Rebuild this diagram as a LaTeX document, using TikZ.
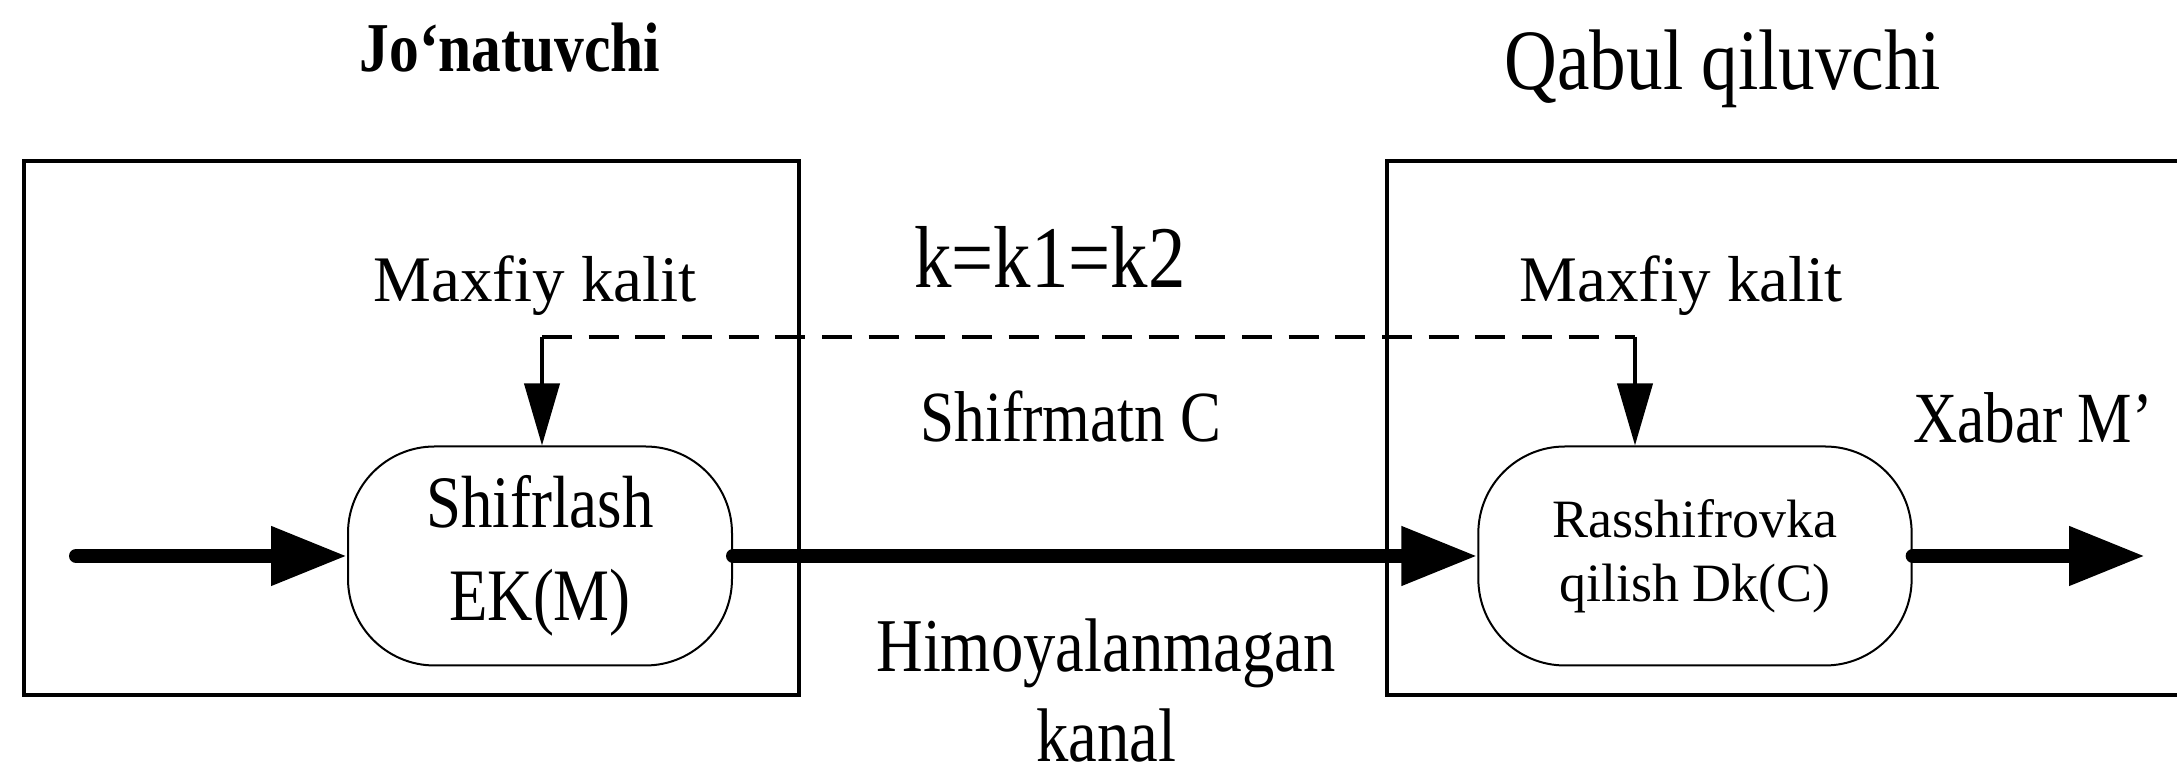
\documentclass[tikz,border=0pt]{standalone}
\usepackage{fontspec}
\setmainfont{Liberation Serif}
\newfontfamily\narrowfont[FakeStretch=0.85]{Liberation Serif}
\usetikzlibrary{arrows.meta, positioning, calc}

\begin{document}
\begin{tikzpicture}[x=0.3pt, y=-0.3pt,
        frame/.style={line width=1.35pt},
        proc/.style={draw, line width=0.6pt, rounded corners=26pt, align=center, inner sep=0pt},
        lbl/.style={anchor=base, inner sep=0pt},
        flow/.style={line width=4.2pt, line cap=round, -{Triangle[length=22.8pt, width=16.8pt]}},
        keyline/.style={line width=1.2pt, -{Triangle[length=18.6pt, width=10.5pt]}},
        keydash/.style={line width=1.2pt, dash pattern=on 9pt off 5pt}]

    \useasboundingbox (0,0) rectangle (2177,774);

    % sender and receiver
    \draw[frame] (24,161) rectangle (799,695);
    \draw[frame] (2177,161) -- (1387,161) -- (1387,695) -- (2177,695);

    \node[lbl, font=\narrowfont\bfseries\fontsize{21}{25}\selectfont] (sender) at (510,72) {Jo‘natuvchi};
    \node[lbl, font=\narrowfont\fontsize{25.8}{30}\selectfont] (receiver) at (1723,90) {Qabul qiluvchi};

    % processes
    \node[proc, minimum width=115.2pt, minimum height=65.7pt,
          font=\narrowfont\fontsize{22.2}{27.9}\selectfont] (enc) at (540,556) {Shifrlash\\EK(M)};
    \node[proc, minimum width=130pt, minimum height=65.7pt,
          font=\fontsize{16.2}{19.2}\selectfont] (dec) at (1695,556) {Rasshifrovka\\qilish Dk(C)};

    % labels
    \node[lbl, font=\fontsize{19.5}{23}\selectfont] (keyl) at (535,302) {Maxfiy kalit};
    \node[lbl, font=\fontsize{19.5}{23}\selectfont] (keyr) at (1681,302) {Maxfiy kalit};
    \node[lbl, font=\narrowfont\fontsize{26.4}{30}\selectfont] (keq) at (1050,288) {k=k1=k2};
    \node[lbl, font=\narrowfont\fontsize{21.6}{26}\selectfont] (ctext) at (1071,442) {Shifrmatn C};
    \node[lbl, font=\narrowfont\fontsize{21.6}{26}\selectfont] (msg) at (2033,443) {Xabar M’};
    \node[lbl, align=center, font=\narrowfont\fontsize{22.8}{27}\selectfont] (chan) at (1106,762) {Himoyalanmagan\\kanal};

    % key exchange
    \coordinate (kl) at (542,337);
    \coordinate (kr) at (1635,337);
    \draw[keydash] (kl) -- (kr);
    \draw[keyline] (kl) -- (kl |- enc.north);
    \draw[keyline] (kr) -- (kr |- dec.north);

    % message flow
    \coordinate (in) at (76,556);
    \coordinate (out) at (2145,556);
    \draw[flow] (in) -- (enc.west);
    \draw[flow] (enc.east) -- (dec.west);
    \draw[flow] (dec.east) -- (out);
\end{tikzpicture}
\end{document}
